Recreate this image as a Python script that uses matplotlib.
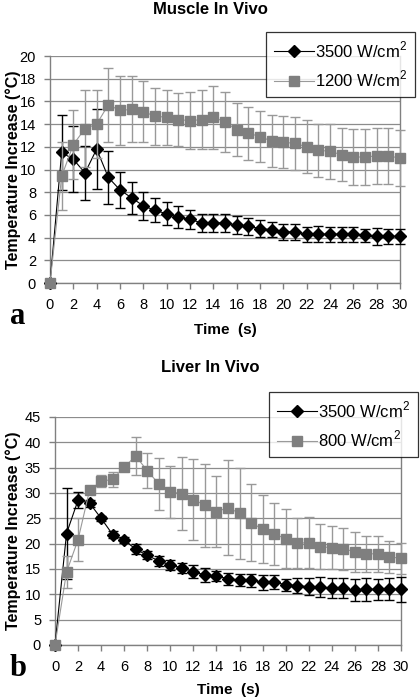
import numpy as np
import matplotlib
matplotlib.use("Agg")
import matplotlib.pyplot as plt
from matplotlib.lines import Line2D

plt.rcParams['font.family'] = ['Liberation Sans', 'DejaVu Sans']
plt.rcParams['mathtext.fontset'] = 'custom'
plt.rcParams['mathtext.rm'] = 'Liberation Sans'

time_s = list(range(31))

# Muscle in vivo
muscle_3500 = [0, 11.5, 10.9, 9.7, 11.8, 9.3, 8.2, 7.5, 6.8, 6.4, 6.1, 5.8, 5.6, 5.3, 5.3, 5.3,
               5.1, 5.0, 4.8, 4.7, 4.5, 4.5, 4.3, 4.3, 4.3, 4.3, 4.3, 4.2, 4.1, 4.1, 4.1]
muscle_3500_err = [0, 3.3, 2.9, 2.4, 3.5, 2.3, 1.6, 1.4, 1.25, 1.05, 1.0, 0.95, 0.85, 0.8, 0.8, 0.8,
                   0.8, 0.75, 0.75, 0.65, 0.7, 0.7, 0.65, 0.7, 0.65, 0.65, 0.65, 0.6, 0.75, 0.7, 0.65]
muscle_1200 = [0, 9.4, 12.2, 13.6, 14.0, 15.7, 15.2, 15.3, 15.1, 14.7, 14.6, 14.4, 14.3, 14.4, 14.6, 14.2,
               13.5, 13.2, 12.9, 12.5, 12.4, 12.3, 12.0, 11.7, 11.6, 11.3, 11.1, 11.1, 11.2, 11.2, 11.0]
muscle_1200_err = [0, 3.0, 3.05, 3.4, 3.0, 3.25, 3.0, 2.9, 2.7, 2.5, 2.4, 2.35, 2.5, 2.6, 2.8, 2.65,
                   2.35, 2.35, 2.25, 2.3, 2.3, 2.3, 2.35, 2.35, 2.4, 2.35, 2.45, 2.45, 2.5, 2.5, 2.45]

# Liver in vivo
liver_3500 = [0, 22.0, 28.6, 28.0, 25.0, 21.8, 20.7, 18.9, 17.7, 16.6, 15.8, 15.2, 14.5, 13.8, 13.6, 13.1,
              12.8, 12.8, 12.4, 12.4, 11.9, 11.7, 11.5, 11.4, 11.2, 11.2, 10.8, 11.0, 11.0, 11.0, 11.0]
liver_3500_err = [0, 8.9, 1.6, 0.7, 0.5, 0.7, 0.6, 1.0, 0.8, 1.0, 0.9, 1.0, 1.2, 1.3, 1.0, 1.2,
                  1.2, 1.3, 1.5, 1.4, 1.2, 1.5, 1.7, 2.0, 2.0, 2.0, 2.2, 2.3, 2.1, 2.2, 2.5]
liver_800 = [0, 14.4, 20.8, 30.6, 32.3, 32.7, 35.1, 37.3, 34.4, 31.8, 30.2, 29.9, 28.7, 27.6, 26.3, 27.1,
             26.0, 24.1, 22.9, 21.9, 21.0, 20.1, 20.2, 19.4, 19.2, 19.0, 18.4, 18.0, 18.0, 17.4, 17.1]
liver_800_err = [0, 3.2, 4.3, 0.5, 1.2, 1.5, 0.3, 3.7, 3.5, 5.1, 5.1, 7.3, 8.0, 8.2, 7.0, 9.4,
                 9.0, 7.6, 6.7, 6.2, 5.8, 5.0, 5.0, 4.4, 4.2, 4.1, 3.9, 3.5, 3.5, 3.2, 3.1]

W, H = 420, 700
fig = plt.figure(figsize=(W / 100, H / 100), dpi=100)

BLACK_STYLE = dict(color='black', lw=0.8, marker='D', ms=6.5, mfc='black', mec='black')
GRAY_STYLE = dict(color='#9a9a9a', lw=0.8, marker='s', ms=6.5, mfc='#7f7f7f', mec='#7f7f7f')


def px_axes(left, top, right, bottom):
    return fig.add_axes([left / W, 1 - bottom / H, (right - left) / W, (bottom - top) / H])


def draw_panel(ax, box, y1, e1, y2, e2, label2, ymax, ystep, legend_box, xlabel_y):
    left, top, right, bottom = box
    ax.errorbar(time_s, y1, yerr=e1, ecolor='black', elinewidth=1.0, capsize=3.5,
                capthick=1.0, zorder=3, clip_on=False, **BLACK_STYLE)
    ax.errorbar(time_s, y2, yerr=e2, ecolor='#999999', elinewidth=1.0, capsize=3.5,
                capthick=1.0, zorder=4, clip_on=False, **GRAY_STYLE)
    ax.set_xlim(0, 30)
    ax.set_ylim(0, ymax)
    ax.set_xticks(range(0, 31, 2))
    ax.set_yticks(np.arange(0, ymax + 0.1, ystep))
    ax.yaxis.grid(True, color='#8c8c8c', lw=0.9)
    ax.set_axisbelow(True)
    for side in ['left', 'bottom', 'right']:
        ax.spines[side].set_color('#808080')
        ax.spines[side].set_linewidth(1.0)
    ax.spines['top'].set_visible(False)
    ax.tick_params(axis='both', labelsize=10.5, colors='#808080', labelcolor='black',
                   length=4, width=1.0, direction='out')
    ax.tick_params(axis='x', pad=7)
    ax.tick_params(axis='y', pad=6)
    ax.set_xlabel('Time  (s)', fontsize=11, fontweight='bold', va='center')
    ax.set_ylabel('Temperature Increase (°C)', fontsize=11.5, fontweight='bold', va='center')
    # label positions in pixels, converted to axes fraction
    ax.xaxis.set_label_coords(0.5, (bottom - xlabel_y) / (bottom - top))
    ax.yaxis.set_label_coords((13 - left) / (right - left), 0.5)
    handles = [Line2D([], [], **BLACK_STYLE), Line2D([], [], **GRAY_STYLE)]
    leg = ax.legend(handles, ['3500 W/cm$^2$', label2], loc='upper right',
                    bbox_to_anchor=legend_box, bbox_transform=fig.transFigure,
                    fontsize=12, frameon=True, fancybox=False, borderpad=0.45,
                    handlelength=2.4, labelspacing=0.55, handletextpad=0.1,
                    borderaxespad=0)
    leg.get_frame().set_edgecolor('black')
    leg.get_frame().set_linewidth(0.9)
    leg.set_zorder(10)


box1 = (50, 56, 400, 283)
ax1 = px_axes(*box1)
draw_panel(ax1, box1, muscle_3500, muscle_3500_err, muscle_1200, muscle_1200_err,
           '1200 W/cm$^2$', 20, 2, (415 / W, 1 - 32 / H), 330)
fig.text(210 / W, 1 - 10 / H, 'Muscle In Vivo', ha='center', va='center',
         fontsize=12, fontweight='bold')
fig.text(18 / W, 1 - 316 / H, 'a', ha='center', va='center', fontsize=22,
         fontweight='bold', family='Liberation Serif')

box2 = (55, 417, 401, 645)
ax2 = px_axes(*box2)
draw_panel(ax2, box2, liver_3500, liver_3500_err, liver_800, liver_800_err,
           '800 W/cm$^2$', 45, 5, (418 / W, 1 - 392 / H), 690)
fig.text(210 / W, 1 - 368 / H, 'Liver In Vivo', ha='center', va='center',
         fontsize=12, fontweight='bold')
fig.text(18 / W, 1 - 668 / H, 'b', ha='center', va='center', fontsize=22,
         fontweight='bold', family='Liberation Serif')

fig.savefig('out.png', dpi=100)
